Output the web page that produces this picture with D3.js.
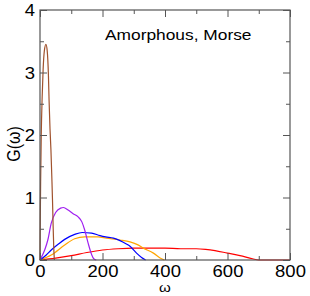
<!DOCTYPE html>
<html><head><meta charset="utf-8">
<script src="https://cdn.jsdelivr.net/npm/d3@7"></script>
<style>
html,body{margin:0;padding:0;background:#fff;}
svg{display:block;font-family:"Liberation Sans",Arial,sans-serif;}
</style></head>
<body><svg id="c" width="310" height="296"></svg>
<script>
const brownW = [0,1,2,4,7,10,14,19,23,27,29,32,35,38,40,42,44,46];
const brownG = [0,0.7,1.25,2.0,2.62,3.05,3.35,3.45,3.35,2.95,2.56,2.1,1.76,1.3,0.96,0.55,0.2,0];
const purpleW = [0,15,25,36,50,66,75,90,106,122,134,143,154,165,172,180];
const purpleG = [0,0.16,0.32,0.59,0.76,0.83,0.84,0.80,0.74,0.69,0.61,0.48,0.27,0.09,0.02,0];
const blueW = [0,20,36,60,79,111,135,165,192,210,235,256,275,288,309,325,338];
const blueG = [0,0.08,0.16,0.26,0.33,0.41,0.44,0.43,0.39,0.37,0.35,0.31,0.26,0.22,0.11,0.04,0];
const orangeW = [0,36,79,111,143,186,212,256,288,310,331,363,389,398];
const orangeG = [0,0.08,0.24,0.34,0.37,0.37,0.35,0.32,0.29,0.25,0.19,0.11,0.02,0];
const redW = [0,50,100,150,200,250,300,350,400,450,500,530,560,600,640,680,700,800];
const redG = [0,0.03,0.07,0.12,0.16,0.18,0.19,0.19,0.19,0.18,0.18,0.17,0.15,0.11,0.07,0.02,0,0];
const xTicks = [0,200,400,600,800];
const yTicks = [0,1,2,3,4];
const title = "Amorphous, Morse";
const xLabel = "ω";
const yLabel = "G(ω)";

const svg = d3.select("#c");
const x = d3.scaleLinear().domain([0,800]).range([40,290]);
const y = d3.scaleLinear().domain([0,4]).range([260,10]);
const frame = "#555";
const sx = "scale(1.12,1)";
const ff = "Liberation Sans, Arial, sans-serif";

const series = [
  {w:redW,g:redG,c:"#ff0000"},
  {w:orangeW,g:orangeG,c:"#ffa500"},
  {w:blueW,g:blueG,c:"#0000ff"},
  {w:purpleW,g:purpleG,c:"#a020f0"},
  {w:brownW,g:brownG,c:"#a0522d"}
];
const line = d3.line().x(d=>x(d[0])).y(d=>y(d[1])).curve(d3.curveMonotoneX);
series.forEach(s=>{
  svg.append("path").datum(s.w.map((w,i)=>[w,s.g[i]]))
    .attr("d",line).attr("fill","none").attr("stroke",s.c).attr("stroke-width",1.2);
});

function ticks(axisGen, tr){
  const g = svg.append("g").attr("transform",tr).call(axisGen);
  g.select(".domain").remove();
  g.selectAll(".tick line").attr("stroke",frame);
  return g;
}
const minorX = [100,300,500,700], minorY=[0.5,1.5,2.5,3.5];
ticks(d3.axisBottom(x).tickValues(minorX).tickSize(-4).tickFormat(""),"translate(0,260)");
ticks(d3.axisTop(x).tickValues(minorX).tickSize(-4).tickFormat(""),"translate(0,10)");
ticks(d3.axisLeft(y).tickValues(minorY).tickSize(-4).tickFormat(""),"translate(40,0)");
ticks(d3.axisRight(y).tickValues(minorY).tickSize(-4).tickFormat(""),"translate(290,0)");
ticks(d3.axisTop(x).tickValues(xTicks).tickSize(-7).tickFormat(""),"translate(0,10)");
ticks(d3.axisRight(y).tickValues(yTicks).tickSize(-7).tickFormat(""),"translate(290,0)");
const gx = ticks(d3.axisBottom(x).tickValues(xTicks).tickSize(-7).tickPadding(0).tickFormat(d3.format("d")),"translate(0,260)");
gx.selectAll(".tick text").attr("y",0).attr("dy",0).attr("transform","translate(0,17) "+sx)
  .attr("font-size",16.5).attr("fill","#000").attr("font-family",ff);
const gy = ticks(d3.axisLeft(y).tickValues(yTicks).tickSize(-7).tickFormat(d3.format("d")),"translate(40,0)");
gy.selectAll(".tick text").attr("x",0).attr("dy","0.36em").attr("transform","translate(-5,0) "+sx)
  .attr("font-size",16.5).attr("fill","#000").attr("font-family",ff);

svg.append("rect").attr("x",x(0)).attr("y",y(4)).attr("width",x(800)-x(0)).attr("height",y(0)-y(4))
  .attr("fill","none").attr("stroke",frame).attr("stroke-width",1.2);

svg.append("text").attr("transform","translate(105,39.5) "+sx).attr("font-size",15.5).text(title);
svg.append("text").attr("transform","translate(165,291.5) "+sx).attr("text-anchor","middle").attr("font-size",13.5).text(xLabel);
svg.append("text").attr("transform","translate(20,144) rotate(-90) scale(1,1.1)").attr("text-anchor","middle").attr("font-size",16).text(yLabel);
</script></body></html>
